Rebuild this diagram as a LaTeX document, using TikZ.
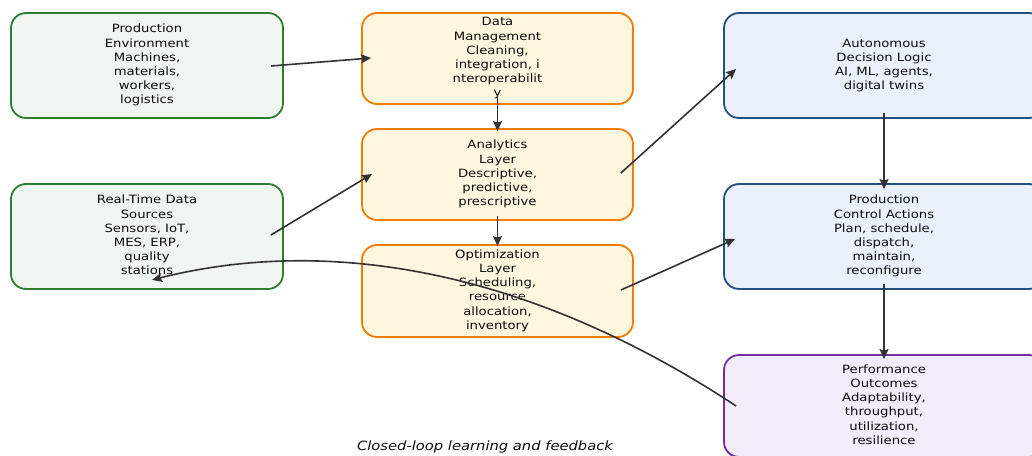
\documentclass[tikz,border=0pt]{standalone}
\usepackage{fontspec}
\setmainfont{DejaVu Sans}
\usetikzlibrary{calc,arrows.meta}
\definecolor{gline}{HTML}{2E7D32}
\definecolor{gfill}{HTML}{EEF6EF}
\definecolor{oline}{HTML}{F57C00}
\definecolor{ofill}{HTML}{FEF6DF}
\definecolor{bline}{HTML}{24507F}
\definecolor{bfill}{HTML}{EAF1FC}
\definecolor{pline}{HTML}{7030A0}
\definecolor{pfill}{HTML}{F4ECFA}
\definecolor{arrc}{HTML}{333333}
\newcommand\boxtxt[1]{\raisebox{-1.5pt}{\scalebox{1.16}[1]{\begin{tabular}{@{}c@{}}#1\end{tabular}}}}
\begin{document}
\begin{tikzpicture}[x=1pt,y=-1pt,
  base/.style={rectangle,rounded corners=15pt,line width=1.8pt,inner sep=0pt,align=center,
    font=\fontsize{11.4}{14.2}\selectfont,text=black!95},
  gbox/.style={base,draw=gline,fill=gfill,minimum width=272,minimum height=105},
  obox/.style={base,draw=oline,fill=ofill,minimum width=271,minimum height=91},
  bbox/.style={base,draw=bline,fill=bfill,minimum width=320,minimum height=105},
  pbox/.style={base,draw=pline,fill=pfill,minimum width=320,minimum height=102},
  arr/.style={draw=arrc,line width=1.6pt,-{Stealth[length=10pt,width=9pt,inset=1.5pt]}}]
\useasboundingbox (0,0) rectangle (1032,455);
\clip (0,0) rectangle (1032,455);
\node[gbox] (pe) at (147,65.5) {\boxtxt{Production\\Environment\\Machines,\\materials,\\workers,\\logistics}};
\node[gbox] (rt) at (147,236.5) {\boxtxt{Real-Time Data\\Sources\\Sensors, IoT,\\MES, ERP,\\quality\\stations}};
\node[obox] (dm) at (497.5,58.5) {\boxtxt{Data\\Management\\Cleaning,\\integration, i\\nteroperabilit\\y}};
\node[obox] (an) at (497.5,174.5) {\boxtxt{Analytics\\Layer\\Descriptive,\\predictive,\\prescriptive}};
\node[obox,minimum height=92] (op) at (497.5,291) {\boxtxt{Optimization\\Layer\\Scheduling,\\resource\\allocation,\\inventory}};
\node[bbox] (ad) at (884,65.5) {\boxtxt{Autonomous\\Decision Logic\\AI, ML, agents,\\digital twins}};
\node[bbox] (pc) at (884,236.5) {\boxtxt{Production\\Control Actions\\Plan, schedule,\\dispatch,\\maintain,\\reconfigure}};
\node[pbox] (po) at (884,406) {\boxtxt{Performance\\Outcomes\\Adaptability,\\throughput,\\utilization,\\resilience}};
\node[font=\fontsize{12.8}{15}\selectfont\itshape,text=black!95] (cap) at (485,447) {\scalebox{1.15}[1]{Closed-loop learning and feedback}};
\draw[arr] ($(pe.east)+(-13,0.5)$) -- ($(dm.west)+(10,-0.5)$);
\draw[arr] ($(dm.south)+(0,-11)$) -- ($(an.north)+(0,3)$);
\draw[arr] ($(an.south)+(0,-5)$) -- ($(op.north)+(0,2)$);
\draw[arr] ($(rt.east)+(-13,-1.5)$) -- ($(an.west)+(11,-0.5)$);
\draw[arr] ($(an.east)+(-13,-1.5)$) -- ($(ad.west)+(13,3.5)$);
\draw[arr] ($(op.east)+(-13,-1)$) -- ($(pc.west)+(12,2.5)$);
\draw[arr] ($(ad.south)+(0,-6)$) -- ($(pc.north)+(0,6)$);
\draw[arr] ($(pc.south)+(0,-6)$) -- ($(po.north)+(0,5)$);
\draw[arr] ($(po.west)+(13,0)$) .. controls (527,268) and (326,236) .. ($(rt.south)+(5,-10)$);
\end{tikzpicture}
\end{document}
